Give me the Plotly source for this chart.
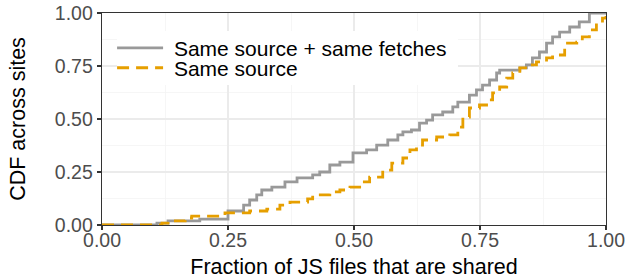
import plotly.graph_objects as go

# Step CDF points
grey_x = [0.000, 0.109, 0.131, 0.194, 0.250, 0.281, 0.293, 0.307, 0.317, 0.337, 0.363, 0.387,
          0.418, 0.432, 0.452, 0.472, 0.498, 0.525, 0.545, 0.567, 0.587, 0.597, 0.614, 0.630,
          0.644, 0.656, 0.676, 0.696, 0.706, 0.729, 0.743, 0.755, 0.769, 0.783, 0.789, 0.829,
          0.842, 0.854, 0.868, 0.882, 0.894, 0.908, 0.928, 0.947, 0.967, 1.000]
grey_y = [0.000, 0.009, 0.019, 0.028, 0.066, 0.094, 0.118, 0.142, 0.165, 0.179, 0.203, 0.222,
          0.236, 0.250, 0.283, 0.297, 0.340, 0.354, 0.377, 0.401, 0.425, 0.439, 0.448, 0.481,
          0.495, 0.519, 0.533, 0.557, 0.580, 0.613, 0.637, 0.660, 0.684, 0.717, 0.731, 0.741,
          0.755, 0.788, 0.816, 0.858, 0.887, 0.910, 0.934, 0.958, 1.000, 1.000]

orange_x = [0.000, 0.119, 0.131, 0.165, 0.178, 0.244, 0.293, 0.327, 0.353, 0.373, 0.408, 0.418,
            0.452, 0.472, 0.492, 0.517, 0.531, 0.557, 0.575, 0.597, 0.611, 0.624, 0.636, 0.664,
            0.690, 0.706, 0.716, 0.729, 0.749, 0.763, 0.775, 0.789, 0.803, 0.815, 0.829, 0.848,
            0.862, 0.882, 0.894, 0.918, 0.942, 0.953, 0.967, 0.981, 0.993, 1.000]
orange_y = [0.000, 0.009, 0.019, 0.033, 0.042, 0.057, 0.066, 0.075, 0.094, 0.108, 0.123, 0.142,
            0.156, 0.165, 0.179, 0.203, 0.226, 0.259, 0.292, 0.316, 0.354, 0.377, 0.401, 0.415,
            0.425, 0.462, 0.509, 0.552, 0.566, 0.590, 0.623, 0.651, 0.693, 0.717, 0.741, 0.755,
            0.769, 0.788, 0.802, 0.858, 0.863, 0.887, 0.920, 0.953, 0.976, 0.986]

tick_vals = [0, 0.25, 0.5, 0.75, 1.0]
tick_text = ["0.00", "0.25", "0.50", "0.75", "1.00"]

FONT = "Liberation Sans, Arial, sans-serif"

fig = go.Figure()
fig.add_trace(go.Scatter(x=grey_x, y=grey_y, mode="lines", line_shape="hv",
                         name="\u00a0Same source + same fetches",
                         line=dict(color="#999999", width=2.8), legend="legend"))
fig.add_trace(go.Scatter(x=orange_x, y=orange_y, mode="lines", line_shape="hv",
                         name="\u00a0Same source",
                         line=dict(color="#E69F00", width=2.8, dash="12px,7px"), legend="legend2"))

axis_common = dict(
    range=[0, 1], tickvals=tick_vals, ticktext=tick_text,
    showgrid=True, gridcolor="#EBEBEB", gridwidth=1.1,
    minor=dict(tickvals=[0.125, 0.375, 0.625, 0.875], showgrid=True,
               gridcolor="#F4F4F4", gridwidth=0.8, ticks=""),
    showline=True, mirror=True, linecolor="#333333", linewidth=1.3,
    ticks="outside", ticklen=4, tickwidth=1.1, tickcolor="#333333",
    tickfont=dict(family=FONT, size=19.5, color="#4D4D4D"),
    zeroline=False, fixedrange=True, automargin=False, ticklabeloverflow="allow",
)

# white legend box (behind the two legend entries)
fig.add_shape(type="rect", xref="paper", yref="paper", layer="above",
              x0=(117 - 102) / 504, x1=(458 - 102) / 504,
              y0=(225 - 85) / 212, y1=(225 - 31) / 212,
              fillcolor="white", line=dict(width=0))

fig.update_layout(
    width=639, height=279,
    margin=dict(l=102, r=33, t=13, b=54),
    paper_bgcolor="white", plot_bgcolor="white",
    font=dict(family=FONT, color="black"),
    xaxis=dict(axis_common, ticklabelstandoff=-7,
               title=dict(text="Fraction of JS files that are shared",
                          font=dict(family=FONT, size=21.5, color="black"),
                          standoff=10)),
    yaxis=dict(axis_common, title=dict(text="CDF across sites",
                                       font=dict(family=FONT, size=21.5, color="black"),
                                       standoff=23)),
    legend=dict(x=0.02, y=0.834, xanchor="left", yanchor="middle",
                bgcolor="rgba(255,255,255,0)", borderwidth=0, itemwidth=46,
                font=dict(family=FONT, size=21, color="black")),
    legend2=dict(x=0.02, y=0.74, xanchor="left", yanchor="middle",
                 bgcolor="rgba(255,255,255,0)", borderwidth=0, itemwidth=46,
                 font=dict(family=FONT, size=21, color="black")),
    showlegend=True,
)

fig.write_html("out.html", config={"displayModeBar": False, "staticPlot": True},
               post_script="document.body.style.margin='0';document.body.style.overflow='hidden';")
